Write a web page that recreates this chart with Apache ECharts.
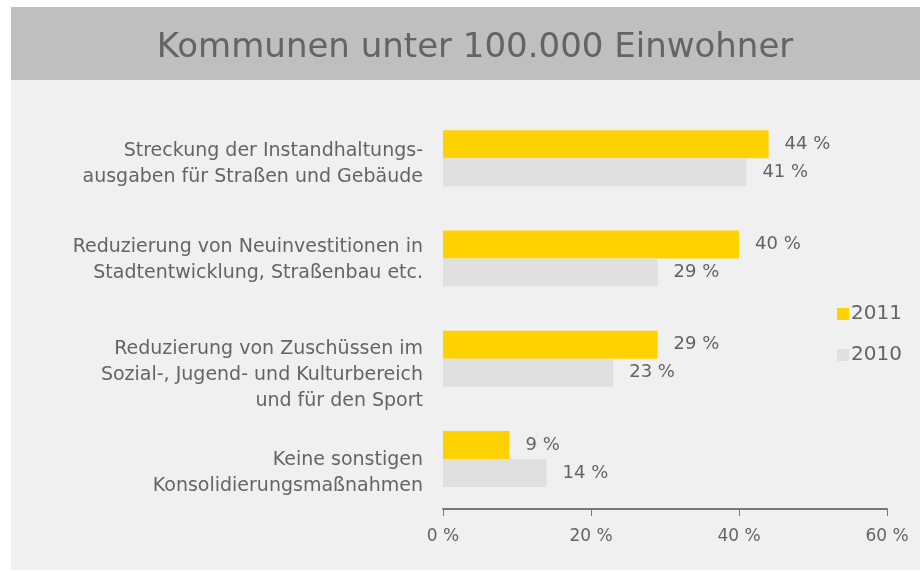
<!DOCTYPE html>
<html>
<head>
<meta charset="utf-8">
<script src="https://cdn.jsdelivr.net/npm/echarts@6/dist/echarts.min.js"></script>
<style>
  html, body { margin: 0; padding: 0; background: #ffffff; }
  #main { width: 920px; height: 571px; }
</style>
</head>
<body>
<div id="main"></div>
<script>
  // Daten
  var categories = [
    'Streckung der Instandhaltungs-\nausgaben für Straßen und Gebäude',
    'Reduzierung von Neuinvestitionen in\nStadtentwicklung, Straßenbau etc.',
    'Reduzierung von Zuschüssen im\nSozial-, Jugend- und Kulturbereich\nund für den Sport',
    'Keine sonstigen\nKonsolidierungsmaßnahmen'
  ];
  var werte2011 = [44, 40, 29, 9];
  var werte2010 = [41, 29, 23, 14];
  var xTicks = [0, 20, 40, 60];

  var textColor = '#646464';
  var fontFam = '"DejaVu Sans", sans-serif';

  // Beschriftungen sitzen im Original etwas unterhalb der Balkenmitte
  var labelShift = [12, 4, 32, 28];

  var myChart = echarts.init(document.getElementById('main'));

  var richStyles = { a: { color: textColor, fontSize: 19, lineHeight: 26, fontFamily: fontFam, align: 'right' } };
  labelShift.forEach(function (s, i) {
    richStyles['p' + i] = { fontSize: 1, lineHeight: s, align: 'right' };
  });

  var option = {
    backgroundColor: '#ffffff',
    textStyle: { fontFamily: fontFam },
    graphic: [
      { type: 'rect', z: -10, shape: { x: 11, y: 80, width: 909, height: 490 }, style: { fill: '#f0f0f0' } },
      { type: 'rect', z: -10, shape: { x: 11, y: 7, width: 909, height: 73 }, style: { fill: '#bfbfbf' } }
    ],
    title: {
      text: 'Kommunen unter 100.000 Einwohner',
      left: 470,
      top: 43,
      textAlign: 'center',
      textVerticalAlign: 'middle',
      textStyle: { color: '#646464', fontSize: 34, fontWeight: 'normal', fontFamily: fontFam }
    },
    legend: {
      orient: 'vertical',
      left: 832,
      top: 299,
      itemWidth: 12,
      itemHeight: 12,
      itemGap: 21,
      icon: 'rect',
      textStyle: { color: textColor, fontSize: 20, padding: [0, 0, 0, -3] },
      data: ['2011', '2010']
    },
    grid: { left: 443, right: 33, top: 108, bottom: 62, containLabel: false },
    xAxis: {
      type: 'value',
      min: 0,
      max: 60,
      interval: 20,
      axisLine: { show: true, lineStyle: { color: '#777777', width: 2 } },
      axisTick: { show: true, length: 7, lineStyle: { color: '#777777', width: 1 } },
      splitLine: { show: false },
      axisLabel: {
        color: textColor,
        fontSize: 17,
        margin: 19,
        formatter: function (v) { return xTicks.indexOf(v) >= 0 ? v + ' %' : ''; }
      }
    },
    yAxis: {
      type: 'category',
      inverse: true,
      data: categories,
      axisLine: { show: false },
      axisTick: { show: false },
      axisLabel: {
        color: textColor,
        fontSize: 19,
        margin: 20,
        align: 'right',
        formatter: function (value, index) {
          var lines = value.split('\n').map(function (l) { return '{a|' + l + '}'; });
          return '{p' + index + '| }\n' + lines.join('\n');
        },
        rich: richStyles
      }
    },
    series: [
      {
        name: '2011',
        type: 'bar',
        data: werte2011,
        barWidth: 28,
        barGap: '0%',
        itemStyle: { color: '#ffd200' },
        label: { show: true, position: 'right', distance: 16, color: textColor, fontSize: 18, formatter: '{c} %' }
      },
      {
        name: '2010',
        type: 'bar',
        data: werte2010,
        barWidth: 28,
        barGap: '0%',
        itemStyle: { color: '#e0e0e0' },
        label: { show: true, position: 'right', distance: 16, color: textColor, fontSize: 18, formatter: '{c} %' }
      }
    ]
  };

  myChart.setOption(option);
</script>
</body>
</html>
